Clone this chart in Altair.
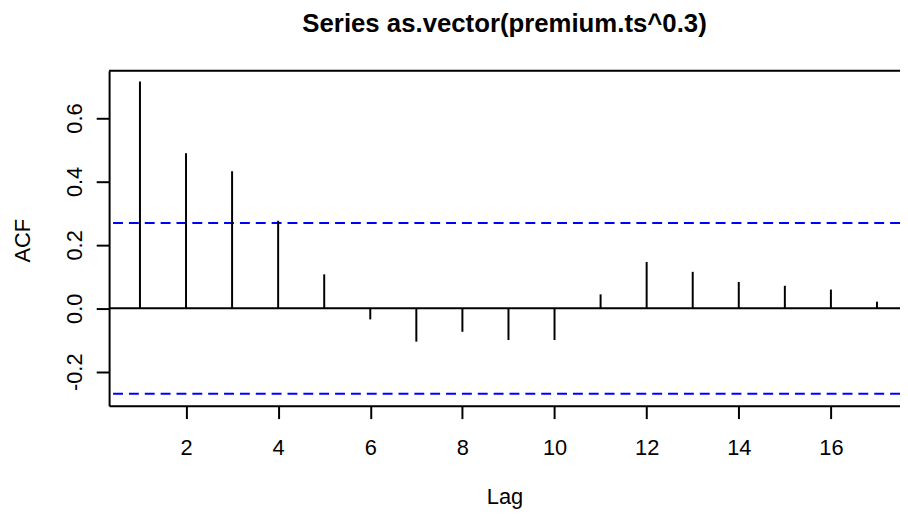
import altair as alt
import pandas as pd

lags = list(range(1, 18))
acf_values = [0.715, 0.489, 0.432, 0.276, 0.107, -0.035, -0.105, -0.074,
              -0.100, -0.100, 0.044, 0.146, 0.115, 0.083, 0.071, 0.059, 0.021]
conf_limit = 0.269
x_ticks = [2, 4, 6, 8, 10, 12, 14, 16]
y_ticks = [-0.2, 0.0, 0.2, 0.4, 0.6]
title_text = "Series as.vector(premium.ts^0.3)"

FONT = "Liberation Sans"
W, H = 798, 338

df = pd.DataFrame({"lag": lags, "acf": acf_values, "zero": [0.0] * len(lags)})
clim_df = pd.DataFrame({"c": [conf_limit, -conf_limit]})
zero_df = pd.DataFrame({"z": [0.0]})

xscale = alt.Scale(domain=[0.33, 17.5], nice=False, zero=False)
yscale = alt.Scale(domain=[-0.307, 0.749], nice=False, zero=False)

xaxis = alt.Axis(values=x_ticks, format="d", title="Lag", grid=False,
                 domain=True, domainColor="black", domainWidth=2,
                 ticks=True, tickColor="black", tickWidth=2, tickSize=13,
                 labelFont=FONT, labelFontSize=22, labelColor="black",
                 labelBaseline="alphabetic", labelPadding=36,
                 labelFlush=False, labelOverlap=False,
                 titleFont=FONT, titleFontSize=22, titleFontWeight="normal",
                 titleColor="black", titleX=399, titleY=98.5,
                 titleAlign="center", titleBaseline="alphabetic")
yaxis = alt.Axis(values=y_ticks, title="ACF", grid=False,
                 labelExpr="(datum.value < 0 ? '-' : '') + format(abs(datum.value), '.1f')",
                 domain=True, domainColor="black", domainWidth=2,
                 ticks=True, tickColor="black", tickWidth=2, tickSize=13,
                 labelFont=FONT, labelFontSize=22, labelColor="black",
                 labelAngle=270, labelAlign="center", labelBaseline="alphabetic",
                 labelPadding=15, labelFlush=False, labelOverlap=False,
                 titleFont=FONT, titleFontSize=22, titleFontWeight="normal",
                 titleColor="black", titleAngle=270, titleX=-80, titleY=171,
                 titleAlign="center", titleBaseline="alphabetic")

bars = alt.Chart(df).mark_rule(color="black", strokeWidth=2).encode(
    x=alt.X("lag:Q", scale=xscale, axis=xaxis),
    y=alt.Y("acf:Q", scale=yscale, axis=yaxis),
    y2="zero:Q",
)

zero_line = alt.Chart(zero_df).mark_rule(color="black", strokeWidth=2).encode(
    y=alt.Y("z:Q", scale=yscale),
)

clim_lines = alt.Chart(clim_df).mark_rule(color="#0000FF", strokeWidth=2,
                                          strokeDash=[10, 6]).encode(
    y=alt.Y("c:Q", scale=yscale),
)

top_border = alt.Chart(zero_df).mark_rule(color="black", strokeWidth=2).encode(
    y=alt.value(0),
)

chart = alt.layer(clim_lines, zero_line, bars, top_border).properties(
    width=W, height=H,
    title=alt.TitleParams(text=title_text, font=FONT, fontSize=26,
                          fontWeight="bold", color="black", anchor="middle",
                          baseline="alphabetic", offset=12),
    autosize=alt.AutoSizeParams(type="none"),
    padding={"left": 102, "top": 61, "right": 0, "bottom": 107},
).configure_view(strokeWidth=0).configure(background="white")

chart.save("out.html", embed_options={"renderer": "svg", "actions": False})
